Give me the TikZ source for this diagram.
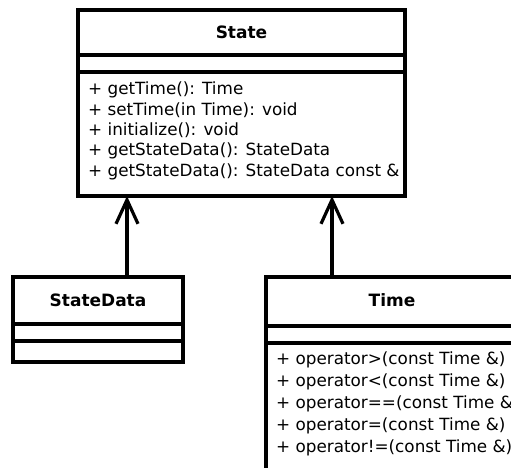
\documentclass[tikz,border=0pt]{standalone}
\usepackage{fontspec}
\setmainfont{DejaVu Sans}
\usetikzlibrary{arrows.meta}
\begin{document}
\begin{tikzpicture}[x=1pt,y=-1pt,
  box/.style={draw,line width=3.5pt,inner sep=0pt,outer sep=0pt,anchor=north west},
  sep/.style={line width=3.5pt},
  classtitle/.style={font=\bfseries\fontsize{17}{20}\selectfont,inner sep=0pt},
  member/.style={font=\fontsize{16.8}{20}\selectfont,anchor=base west,inner sep=0pt},
  arr/.style={line width=3.2pt,-{Straight Barb[length=24pt,width=22pt,line width=3.2pt]}}]
\useasboundingbox (0,0) rectangle (511,468);
\clip (0,0) rectangle (511,468);
% State
\node[box,minimum width=327pt,minimum height=186pt] (state) at (78,10) {};
\node[classtitle] (statet) at ([yshift=-22pt]state.north) {State};
\draw[sep] ([yshift=-45pt]state.north west) -- ([yshift=-45pt]state.north east);
\draw[sep] ([yshift=-62pt]state.north west) -- ([yshift=-62pt]state.north east);
\node[member] (s1) at ([xshift=10pt,yshift=-85pt]state.north west) {+ getTime(): Time};
\node[member] (s2) at ([xshift=10pt,yshift=-105.3pt]state.north west) {+ setTime(in Time): void};
\node[member] (s3) at ([xshift=10pt,yshift=-125.6pt]state.north west) {+ initialize(): void};
\node[member] (s4) at ([xshift=10pt,yshift=-145.9pt]state.north west) {+ getStateData(): StateData};
\node[member] (s5) at ([xshift=10pt,yshift=-166.2pt]state.north west) {+ getStateData(): StateData const \&};
% StateData
\node[box,minimum width=170pt,minimum height=85pt] (sd) at (13,277) {};
\node[classtitle] (sdt) at ([yshift=-23pt]sd.north) {StateData};
\draw[sep] ([yshift=-47pt]sd.north west) -- ([yshift=-47pt]sd.north east);
\draw[sep] ([yshift=-64pt]sd.north west) -- ([yshift=-64pt]sd.north east);
% Time
\node[box,minimum width=252pt,minimum height=260pt] (time) at (266,277) {};
\node[classtitle] (timet) at ([yshift=-23pt]time.north) {Time};
\draw[sep] ([yshift=-49pt]time.north west) -- ([yshift=-49pt]time.north east);
\draw[sep] ([yshift=-66pt]time.north west) -- ([yshift=-66pt]time.north east);
\node[member] (t1) at ([xshift=10pt,yshift=-87pt]time.north west) {+ operator>(const Time \&)};
\node[member] (t2) at ([xshift=10pt,yshift=-109pt]time.north west) {+ operator<(const Time \&)};
\node[member] (t3) at ([xshift=10pt,yshift=-131pt]time.north west) {+ operator==(const Time \&)};
\node[member] (t4) at ([xshift=10pt,yshift=-153pt]time.north west) {+ operator=(const Time \&)};
\node[member] (t5) at ([xshift=10pt,yshift=-175pt]time.north west) {+ operator!=(const Time \&)};
% connectors
\coordinate (ax1) at (127,0);
\coordinate (ax2) at (332,0);
\draw[arr] (sd.north -| ax1) -- (state.south -| ax1);
\draw[arr] (time.north -| ax2) -- (state.south -| ax2);
\end{tikzpicture}
\end{document}
